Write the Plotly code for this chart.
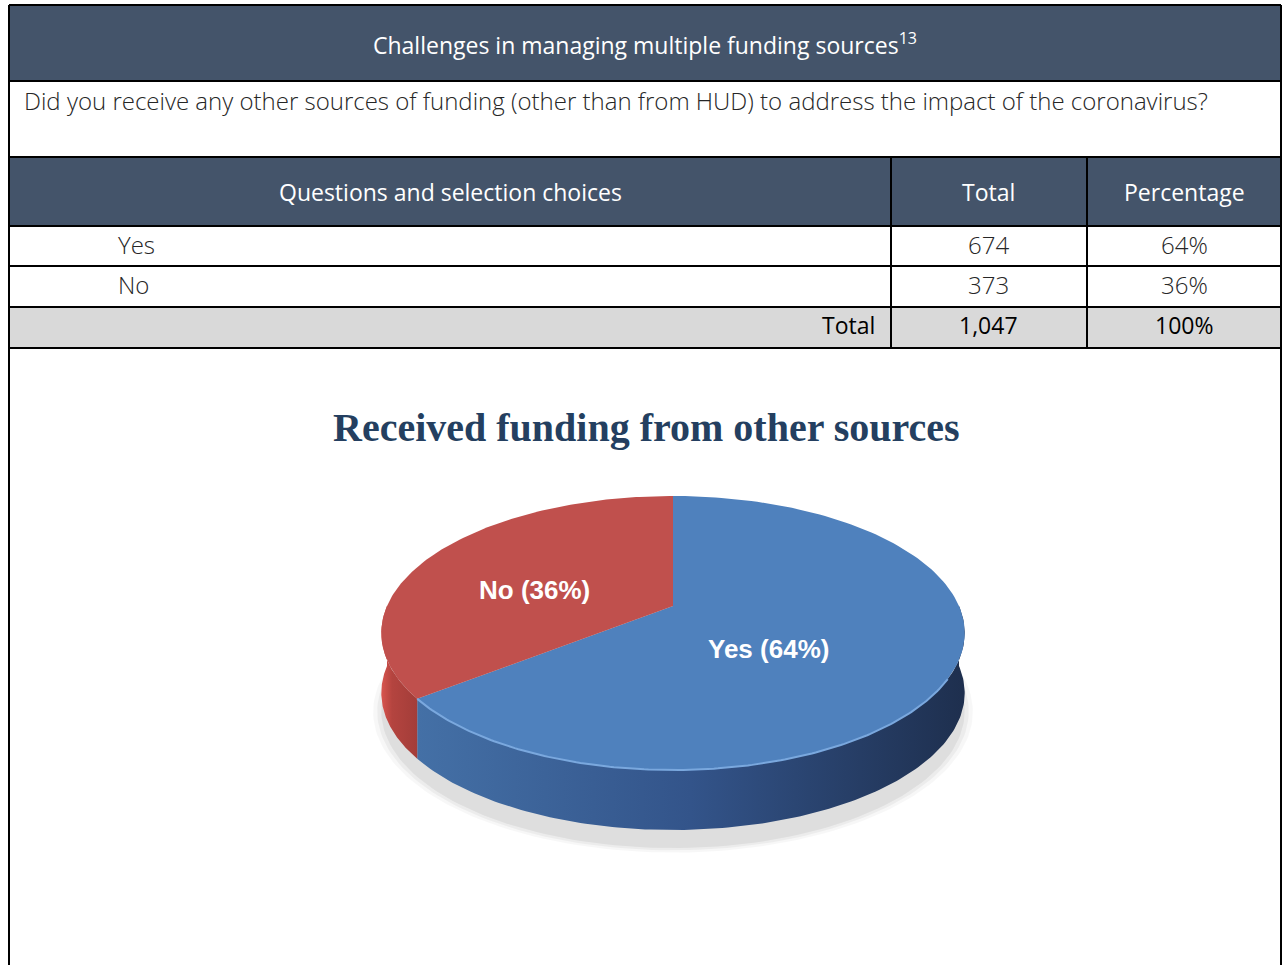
import numpy as np
import plotly.graph_objects as go

# table / chart data
choices = ["Yes", "No"]
totals = [674, 373]
percents = [64, 36]
header_cols = ["Questions and selection choices", "Total", "Percentage"]
table_title = "Challenges in managing multiple funding sources"
footnote = "13"
question = "Did you receive any other sources of funding (other than from HUD) to address the impact of the coronavirus?"
chart_title = "Received funding from other sources"

W, H = 1283, 965
DARK = "#44546a"
BODY_FONT = "Open Sans"

fig = go.Figure()

# ---------- 3D-looking pie drawn on a pixel axis ----------
# simple perspective: front of the disc looks bigger than the back
cx, cy, rx, ry, depth, k = 673, 606, 286, 131.7, 60, 0.197
grand = sum(totals)
top_colors = {"Yes": "#4f81bd", "No": "#c0504d"}
side_scales = {"Yes": [[0, "#4470a6"], [0.5, "#33548a"], [1, "#1e2f4e"]],
               "No": [[0, "#d9554f"], [0.3, "#b4443f"], [1, "#a33d39"]]}


def proj(deg, dy=0):
    t = np.radians(deg)
    u, v = np.cos(t), -np.sin(t)  # v > 0 towards viewer
    s = 1.0 / (1.0 - k * v)
    return cx + rx * u * s, cy + ry * v * s + dy


def arc(a0, a1, n=160, dy=0):
    return proj(np.linspace(a0, a1, n), dy)


# soft shadow under the pie
for grow, alpha in [(8, 0.03), (4, 0.045), (0, 0.06)]:
    xs, ys = proj(np.linspace(0, 360, 240))
    xs = cx + (xs - cx) * (1 + grow / rx)
    ys = cy + 18 + depth + (ys - cy) * (1 + grow / rx)
    fig.add_trace(go.Scatter(x=xs, y=ys, fill="toself", mode="lines", line=dict(width=0),
                             fillcolor=f"rgba(0,0,0,{alpha})", hoverinfo="skip", showlegend=False))

# slice angles: start at 12 o'clock, clockwise
angles = {}
start = 90.0
for name, v in zip(choices, totals):
    sweep = 360.0 * v / grand
    angles[name] = ((start - sweep) % 360, start % 360 if start % 360 else 360)
    start -= sweep

# side walls on the front half (180..360 deg)
for name in choices:
    a0, a1 = angles[name]
    if a1 <= a0:
        a1 += 360
    lo, hi = max(a0, 180), min(a1, 360)
    if lo >= hi:
        continue
    xs, ys = arc(lo, hi)
    xb, yb = xs[::-1], ys[::-1] + depth
    fig.add_trace(go.Scatter(x=np.r_[xs, xb, xs[:1]], y=np.r_[ys, yb, ys[:1]],
                             fill="toself", mode="lines", line=dict(width=0),
                             fillgradient=dict(type="horizontal", colorscale=side_scales[name]),
                             hoverinfo="skip", showlegend=False))

# top faces
for name in choices:
    a0, a1 = angles[name]
    if a1 <= a0:
        a1 += 360
    xs, ys = arc(a0, a1)
    fig.add_trace(go.Scatter(x=np.r_[cx, xs, cx], y=np.r_[cy, ys, cy],
                             fill="toself", mode="lines", line=dict(width=0),
                             fillcolor=top_colors[name], hoverinfo="skip", showlegend=False))

# highlight on front rim of the top face
xs, ys = arc(angles["Yes"][0], 330)
fig.add_trace(go.Scatter(x=xs, y=ys, mode="lines", line=dict(color="#7aa8de", width=2),
                         hoverinfo="skip", showlegend=False))

# slice labels
label_pos = {"Yes": (768, 649), "No": (534, 590)}
for name, p in zip(choices, percents):
    fig.add_annotation(x=label_pos[name][0], y=label_pos[name][1], text=f"<b>{name} ({p}%)</b>",
                       showarrow=False, font=dict(family="Liberation Sans", size=26, color="white"))

fig.add_annotation(x=646, y=427, text=f"<b>{chart_title}</b>", showarrow=False,
                   font=dict(family="Liberation Serif", size=40, color="#243f60"))

# ---------- table ----------
L, R, T = 9, 1281, 5
rows = [5, 81, 157, 226, 266, 307, 348]
c1, c2 = 891, 1087
shapes = []
shapes.append(dict(type="rect", x0=L, x1=R, y0=rows[0], y1=rows[1], fillcolor=DARK, line=dict(width=0), layer="below"))
shapes.append(dict(type="rect", x0=L, x1=R, y0=rows[2], y1=rows[3], fillcolor=DARK, line=dict(width=0), layer="below"))
shapes.append(dict(type="rect", x0=L, x1=R, y0=rows[5], y1=rows[6], fillcolor="#d9d9d9", line=dict(width=0), layer="below"))
for y in rows:
    shapes.append(dict(type="line", x0=L, x1=R, y0=y, y1=y, line=dict(color="black", width=2)))
for x in (L, R):
    shapes.append(dict(type="line", x0=x, x1=x, y0=T, y1=H, line=dict(color="black", width=2)))
for x in (c1, c2):
    shapes.append(dict(type="line", x0=x, x1=x, y0=rows[2], y1=rows[6], line=dict(color="black", width=2)))
for s in shapes:
    s.update(xref="x", yref="y")
fig.update_layout(shapes=shapes)

HEAD = dict(family=BODY_FONT, size=23, color="white")
LIGHT = dict(family=BODY_FONT, size=24, color="#262626", weight=300)
BOLDISH = dict(family=BODY_FONT, size=23, color="black")

fig.add_annotation(x=645, y=44, text=f"{table_title}<sup>{footnote}</sup>", showarrow=False, font=HEAD)
fig.add_annotation(x=22, y=100, xanchor="left", text=question, showarrow=False, font=LIGHT)
col_x = [450, 988, 1184]
for x, t in zip(col_x, header_cols):
    fig.add_annotation(x=x, y=192, text=t, showarrow=False, font=HEAD)
row_y = [244, 284]
for y, name, v, p in zip(row_y, choices, totals, percents):
    fig.add_annotation(x=116, y=y, xanchor="left", text=name, showarrow=False, font=LIGHT)
    fig.add_annotation(x=988, y=y, text=str(v), showarrow=False, font=LIGHT)
    fig.add_annotation(x=1184, y=y, text=f"{p}%", showarrow=False, font=LIGHT)
fig.add_annotation(x=877, y=325, xanchor="right", text="Total", showarrow=False, font=BOLDISH)
fig.add_annotation(x=988, y=325, text=f"{grand:,}", showarrow=False, font=BOLDISH)
fig.add_annotation(x=1184, y=325, text=f"{sum(percents)}%", showarrow=False, font=BOLDISH)

for a in fig.layout.annotations:
    a.update(xref="x", yref="y")

fig.update_layout(
    width=W, height=H, autosize=False,
    margin=dict(l=0, r=0, t=0, b=0),
    paper_bgcolor="white", plot_bgcolor="white",
    xaxis=dict(range=[0, W], visible=False, fixedrange=True),
    yaxis=dict(range=[H, 0], visible=False, fixedrange=True),
    showlegend=False,
)

fig.write_html("out.html", config={"displayModeBar": False},
               post_script=["document.body.style.margin='0';"])
